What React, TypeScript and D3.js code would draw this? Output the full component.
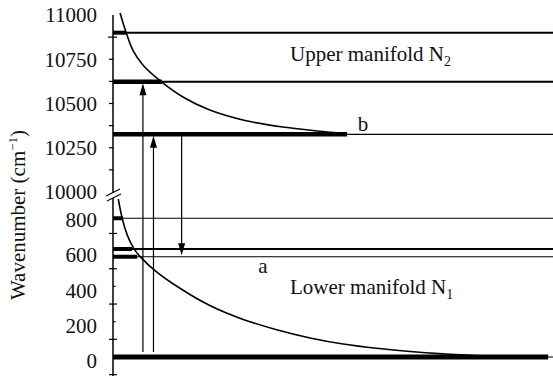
import React from "react";
import * as d3 from "d3";

// Energy levels (cm^-1) and the population drawn as a thick bar on each level
const upperLevels = [10900, 10623, 10326];
const upperPopulation = [0.03, 0.111, 0.532];
const upperWidths = [2, 2, 1.2];
const lowerLevels = [786, 612, 568, 0];
const lowerPopulation = [0.023, 0.043, 0.055, 0.989];
const lowerWidths = [1.2, 2, 1.2, 1];

// Thermal population curves: [relative population, wavenumber]
const upperCurve: [number, number][] = [
  [0.016, 11011], [0.03, 10900], [0.045, 10802], [0.068, 10718], [0.111, 10621],
  [0.159, 10537], [0.22, 10463], [0.3, 10404], [0.386, 10367], [0.464, 10345],
  [0.532, 10331],
];
const lowerCurve: [number, number][] = [
  [0.012, 895], [0.02, 786], [0.032, 686], [0.047, 612], [0.061, 568],
  [0.0916, 493], [0.145, 398], [0.22, 285], [0.296, 210], [0.372, 153],
  [0.448, 106], [0.523, 72], [0.599, 49], [0.675, 30], [0.75, 17],
  [0.827, 7], [0.88, 2], [0.95, 0],
];

// Transitions: position, start level, end level
const transitions = [
  { p: 0.068, from: 0, to: 10623 },
  { p: 0.092, from: 0, to: 10326 },
  { p: 0.156, from: 10326, to: 568 },
];

const upperTickLabels = [11000, 10750, 10500, 10250, 10000];
const upperMinorTicks = [10125, 10250, 10375, 10500, 10625, 10750, 10875];
const lowerTickLabels = [800, 600, 400, 200, 0];
const lowerCrossTicks = [700, 500, 300, 100, -100];
const lowerSmallTicks = [400, 200];

const W = 553;
const H = 377;
const axisX = 113;

const x = d3.scaleLinear().domain([0, 1]).range([axisX, 553]);
const yUp = d3.scaleLinear().domain([10000, 11000]).range([192, 15]);
const yLo = d3.scaleLinear().domain([0, 800]).range([357, 215.8]);

// Map a wavenumber to the right panel of the broken axis
const yOf = (v: number) => (v >= 5000 ? yUp(v) : yLo(v));

const txt: React.CSSProperties = { fontFamily: "Liberation Serif", fill: "#111" };
const fs = 21;

export default function App() {
  const curveUp = d3
    .line<[number, number]>()
    .x((d) => x(d[0]))
    .y((d) => yUp(d[1]))
    .curve(d3.curveCatmullRom.alpha(0.5))(upperCurve) as string;
  const curveLo = d3
    .line<[number, number]>()
    .x((d) => x(d[0]))
    .y((d) => yLo(d[1]))
    .curve(d3.curveBasis)(lowerCurve) as string;

  const head = (xp: number, yTip: number, dir: number) => {
    const len = 12;
    const hw = 3.5;
    return `M${xp},${yTip} L${xp - hw},${yTip + dir * len} L${xp + hw},${yTip + dir * len} Z`;
  };

  return (
    <svg width={W} height={H} style={{ position: "absolute", left: 0, top: 0, background: "#fff" }}>
      {/* axis with a break between the two manifolds */}
      <line x1={axisX} x2={axisX} y1={yUp(11000)} y2={193} stroke="#000" strokeWidth={1.5} />
      <line x1={axisX} x2={axisX} y1={198} y2={376} stroke="#000" strokeWidth={1.5} />
      <line x1={106} y1={196} x2={120} y2={189} stroke="#000" strokeWidth={1.2} />
      <line x1={107} y1={201} x2={121} y2={194} stroke="#000" strokeWidth={1.2} />

      {upperMinorTicks.map((t) => (
        <line
          key={"um" + t}
          x1={t === 10875 ? 108 : 109}
          x2={t === 10875 ? 117 : axisX}
          y1={yUp(t)}
          y2={yUp(t)}
          stroke="#000"
          strokeWidth={1.2}
        />
      ))}
      {lowerCrossTicks.map((t) => (
        <line key={"lc" + t} x1={109} x2={117} y1={yLo(t)} y2={yLo(t)} stroke="#000" strokeWidth={1.2} />
      ))}
      {lowerSmallTicks.map((t) => (
        <line key={"ls" + t} x1={axisX} x2={115.5} y1={yLo(t)} y2={yLo(t)} stroke="#000" strokeWidth={1.2} />
      ))}

      {upperTickLabels.map((t) => (
        <text key={"ul" + t} x={97} y={yUp(t)} dy="0.35em" textAnchor="end" fontSize={fs} style={txt}>
          {t}
        </text>
      ))}
      {lowerTickLabels.map((t) => (
        <text key={"ll" + t} x={97} y={yLo(t) + 4} dy="0.35em" textAnchor="end" fontSize={fs} style={txt}>
          {t}
        </text>
      ))}

      <text transform={`translate(25,${215}) rotate(-90)`} textAnchor="middle" fontSize={fs} style={txt}>
        Wavenumber (cm
        <tspan fontSize={13} dy={-8}>−1</tspan>
        <tspan dy={8}>)</tspan>
      </text>

      {/* energy levels */}
      {upperLevels.map((v, i) => (
        <g key={"u" + v}>
          <line x1={axisX} x2={W} y1={yUp(v)} y2={yUp(v)} stroke="#000" strokeWidth={upperWidths[i]} />
          <line x1={axisX} x2={x(upperPopulation[i])} y1={yUp(v)} y2={yUp(v)} stroke="#000" strokeWidth={i === 0 ? 4 : 4.5} />
        </g>
      ))}
      {lowerLevels.map((v, i) => (
        <g key={"l" + v}>
          <line x1={axisX} x2={W} y1={yLo(v)} y2={yLo(v)} stroke="#000" strokeWidth={lowerWidths[i]} />
          <line x1={axisX} x2={x(lowerPopulation[i])} y1={yLo(v)} y2={yLo(v)} stroke="#000" strokeWidth={v === 0 ? 5 : 4} />
        </g>
      ))}

      {/* population curves */}
      <path d={curveUp} fill="none" stroke="#000" strokeWidth={1.6} />
      <path d={curveLo} fill="none" stroke="#000" strokeWidth={1.6} />

      {/* transitions */}
      {transitions.map((t, i) => {
        const xp = x(t.p);
        const y0 = t.from === 0 ? yOf(t.from) - 5 : yOf(t.from);
        const y1 = yOf(t.to);
        const dir = y1 < y0 ? 1 : -1;
        return (
          <g key={"t" + i}>
            <line x1={xp} x2={xp} y1={y0} y2={y1 + dir * 6} stroke="#000" strokeWidth={1.2} />
            <path d={head(xp, y1 + dir * 1.5, dir)} fill="#000" />
          </g>
        );
      })}

      <text x={290} y={61} fontSize={fs} style={txt}>
        Upper manifold N<tspan fontSize={14} dy={5}>2</tspan>
      </text>
      <text x={290} y={294} fontSize={fs} style={txt}>
        Lower manifold N<tspan fontSize={14} dy={5}>1</tspan>
      </text>
      <text x={263} y={273} fontSize={fs} textAnchor="middle" style={txt}>a</text>
      <text x={363} y={131} fontSize={fs} textAnchor="middle" style={txt}>b</text>
    </svg>
  );
}
